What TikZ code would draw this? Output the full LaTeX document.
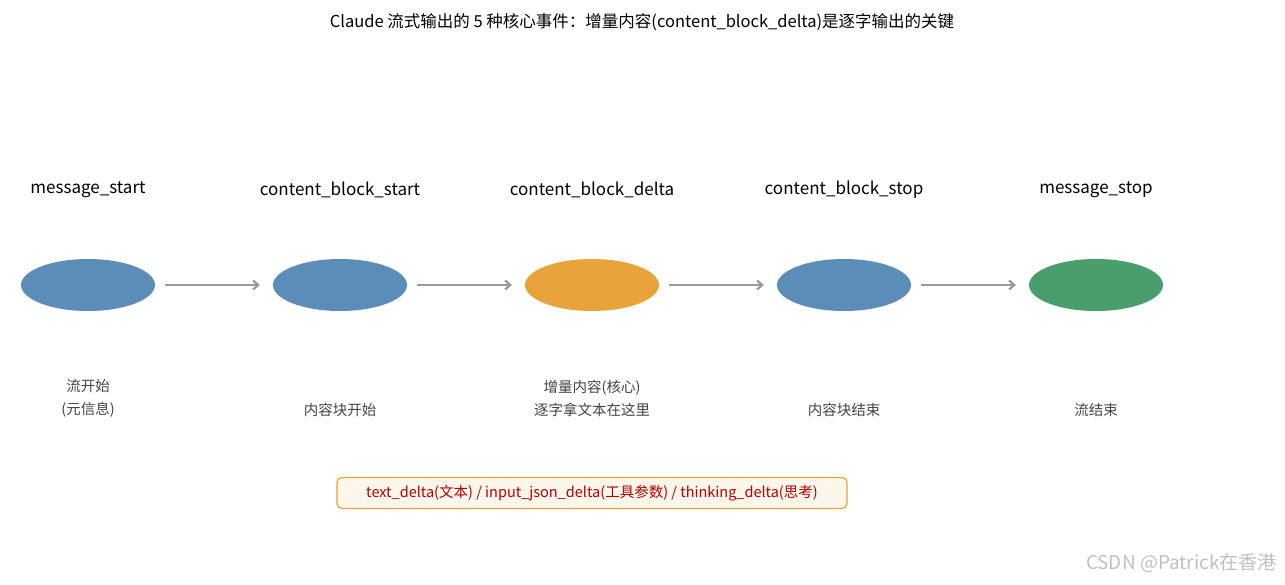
\documentclass[tikz,border=0pt]{standalone}
\usepackage{fontspec}
\setmainfont{Noto Sans CJK SC}
\usetikzlibrary{arrows.meta,shapes.geometric}
\definecolor{cblue}{HTML}{5B8DB8}
\definecolor{corange}{HTML}{E8A33B}
\definecolor{cgreen}{HTML}{4A9E6E}
\definecolor{carrow}{HTML}{999999}
\definecolor{ctext}{HTML}{444444}
\tikzset{
 ev/.style={ellipse,minimum width=134pt,minimum height=52pt,inner sep=0pt},
 arr/.style={draw=carrow,line width=2.2pt,-{Straight Barb[length=5pt,width=9pt]},shorten <=10pt,shorten >=13pt},
 evlabel/.style={font=\fontsize{17}{20}\selectfont,text=black},
 desc/.style={font=\fontsize{14.5}{23}\selectfont,text=ctext,align=center},
}
\begin{document}
\begin{tikzpicture}[x=1pt,y=-1pt]
\useasboundingbox (0,0) rectangle (1285,585);
\node[font=\fontsize{16.5}{20}\selectfont] (title) at (642,22) {Claude 流式输出的 5 种核心事件：增量内容(content\_block\_delta)是逐字输出的关键};
\foreach \i/\x/\c/\n in {1/88/cblue/message\_start,2/340/cblue/content\_block\_start,3/592/corange/content\_block\_delta,4/844/cblue/content\_block\_stop,5/1096/cgreen/message\_stop}{
 \node[ev,fill=\c] (e\i) at (\x,285) {};
 \node[evlabel] (n\i) at (\x,190) {\n};
}
\foreach \a/\b in {1/2,2/3,3/4,4/5}{\draw[arr] (e\a) -- (e\b);}
\node[desc] (d1) at (88,398) {流开始\\(元信息)};
\node[desc] (d2) at (340,410) {内容块开始};
\node[desc] (d3) at (592,398) {增量内容(核心)\\逐字拿文本在这里};
\node[desc] (d4) at (844,410) {内容块结束};
\node[desc] (d5) at (1096,410) {流结束};
\node[draw=corange,line width=1.2pt,fill=corange!10,rounded corners=5pt,minimum width=510pt,minimum height=31pt,text=red!70!black,font=\fontsize{14.5}{17}\selectfont] (box) at (592,493) {text\_delta(文本) / input\_json\_delta(工具参数) / thinking\_delta(思考)};
\node[font=\fontsize{19}{22}\selectfont,text=black!25,anchor=east] (wm) at (1280,563) {CSDN @Patrick在香港};
\end{tikzpicture}
\end{document}
